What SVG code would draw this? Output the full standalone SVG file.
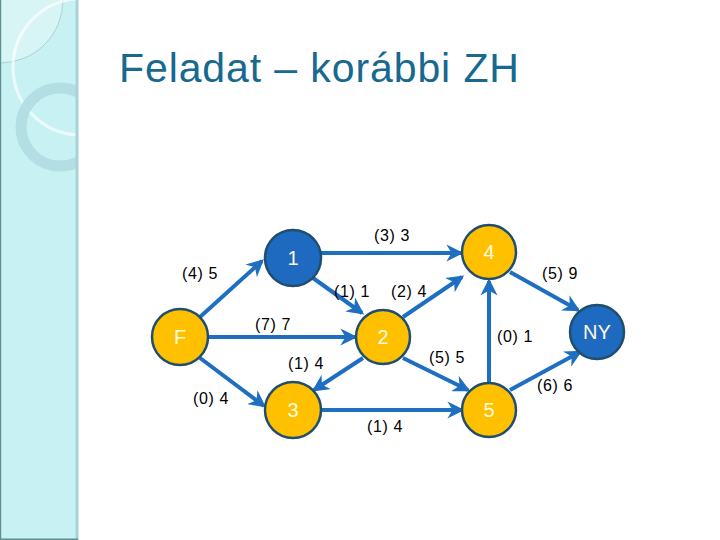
<svg xmlns="http://www.w3.org/2000/svg" width="720" height="540" viewBox="0 0 720 540">
<defs>
<style>
.edge{stroke:#1E6FC2;stroke-width:4;fill:none;marker-end:url(#arr)}
.node circle{stroke:#1F4E6E;stroke-width:2.5}
.y circle{fill:#FFC000}
.b circle{fill:#1E6AC0}
.node text{font-family:"Liberation Sans",Arial,sans-serif;font-size:20px;fill:#FFFBE0;text-anchor:middle}
.lbl{font-family:"Liberation Sans",Arial,sans-serif;font-size:16px;fill:#000;text-anchor:middle;letter-spacing:0.6px}
</style>
<marker id="arr" viewBox="0 0 10 10" markerWidth="4.3" markerHeight="4.3" refX="8.5" refY="5" orient="auto" markerUnits="strokeWidth">
<path d="M0,0 L10,5 L0,10 L3,5 z" fill="#1E6FC2"/>
</marker>
<clipPath id="strip"><rect x="0" y="0" width="77" height="540"/></clipPath>
</defs>
<rect width="720" height="540" fill="#fff"/>
<g id="sidebar">
<rect x="0" y="0" width="78" height="540" fill="#C8F1F3"/>
<g clip-path="url(#strip)">
<circle cx="0" cy="0" r="63" fill="#D8F5F6" stroke="#A3C8CB" stroke-width="0.8"/>
<circle cx="81" cy="67" r="68" fill="none" stroke="#FFFFFF" stroke-width="3" opacity="0.65"/>
<circle cx="60" cy="127" r="39" fill="none" stroke="#AEDBE1" stroke-width="11" opacity="0.85"/>
</g>
<rect x="75.5" y="0" width="3" height="540" fill="#A7D2D6"/>
<rect x="0" y="0" width="1.2" height="540" fill="#5E8E90"/>
<rect x="0" y="538.5" width="78" height="1.5" fill="#5E8E90"/>
</g>
<text x="119" y="82" font-family="'Liberation Sans',Arial,sans-serif" font-size="41" letter-spacing="0.9" fill="#17698F">Feladat – korábbi ZH</text>
<g id="connectors">
<line class="edge" x1="200" y1="317" x2="262" y2="261"/>
<line class="edge" x1="321" y1="253" x2="461" y2="253"/>
<line class="edge" x1="313" y1="278" x2="362" y2="313"/>
<line class="edge" x1="208" y1="337" x2="355" y2="337"/>
<line class="edge" x1="403" y1="317" x2="462" y2="277"/>
<line class="edge" x1="510" y1="272" x2="578" y2="310"/>
<line class="edge" x1="489" y1="383" x2="489" y2="281"/>
<line class="edge" x1="403" y1="358" x2="468" y2="390"/>
<line class="edge" x1="321" y1="410" x2="462" y2="410"/>
<line class="edge" x1="510" y1="390" x2="580" y2="352"/>
<line class="edge" x1="200" y1="358" x2="264" y2="406"/>
<line class="edge" x1="363" y1="358" x2="314" y2="390"/>
</g>
<g id="labels">
<text class="lbl" x="392" y="241">(3) 3</text>
<text class="lbl" x="200" y="279">(4) 5</text>
<text class="lbl" x="352" y="297">(1) 1</text>
<text class="lbl" x="409" y="297">(2) 4</text>
<text class="lbl" x="560" y="279">(5) 9</text>
<text class="lbl" x="273" y="330">(7) 7</text>
<text class="lbl" x="515" y="342">(0) 1</text>
<text class="lbl" x="447" y="363">(5) 5</text>
<text class="lbl" x="306" y="369">(1) 4</text>
<text class="lbl" x="211" y="404">(0) 4</text>
<text class="lbl" x="555" y="391">(6) 6</text>
<text class="lbl" x="385" y="432">(1) 4</text>
</g>
<g id="node-F" class="node y"><circle cx="180" cy="337" r="28"/><text x="180" y="344">F</text></g>
<g id="node-1" class="node b"><circle cx="293" cy="258" r="28"/><text x="293" y="265">1</text></g>
<g id="node-4" class="node y"><circle cx="489" cy="252" r="27"/><text x="489" y="259">4</text></g>
<g id="node-2" class="node y"><circle cx="383" cy="337" r="27"/><text x="383" y="344">2</text></g>
<g id="node-NY" class="node b"><circle cx="597" cy="332" r="27"/><text x="597" y="339">NY</text></g>
<g id="node-3" class="node y"><circle cx="293" cy="410" r="28"/><text x="293" y="417">3</text></g>
<g id="node-5" class="node y"><circle cx="489" cy="410" r="27"/><text x="489" y="417">5</text></g>
</svg>
